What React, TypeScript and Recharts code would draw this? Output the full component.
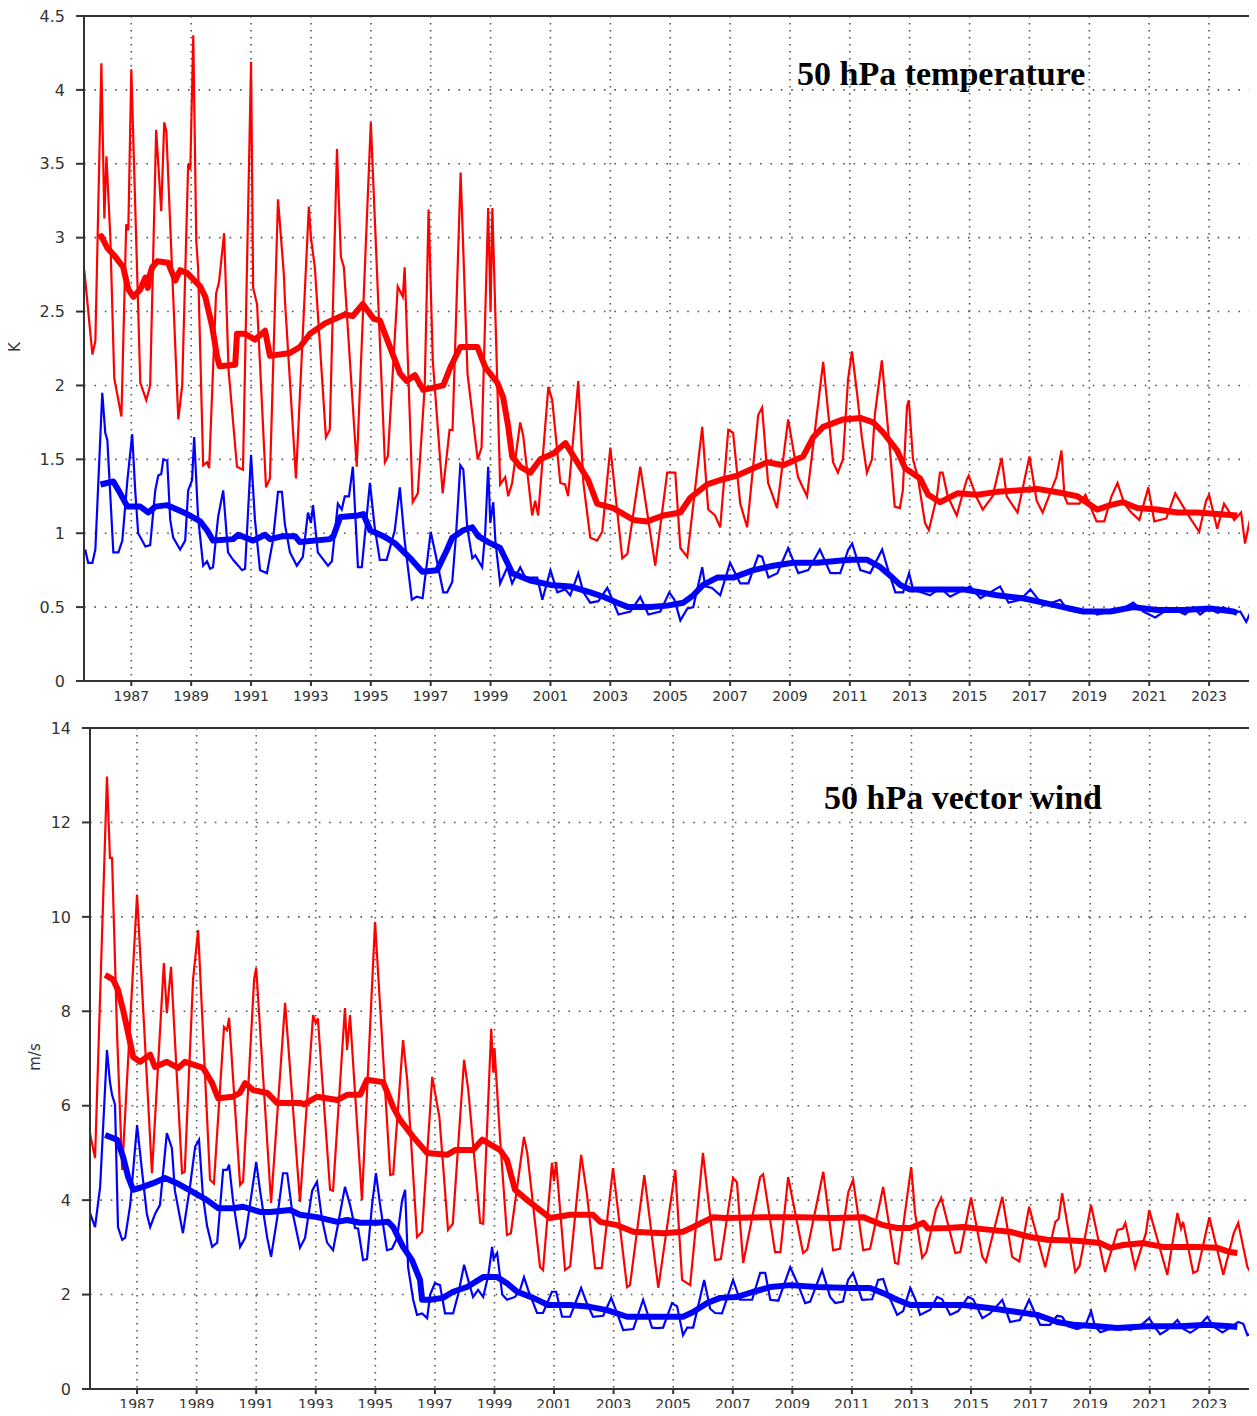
import React from 'react';
import { LineChart, Line, XAxis, YAxis, CartesianGrid, ReferenceArea } from 'recharts';

type Pt = [number, number];

const yearTicks = [1987, 1989, 1991, 1993, 1995, 1997, 1999, 2001, 2003, 2005, 2007, 2009, 2011, 2013, 2015, 2017, 2019, 2021, 2023];
const tempTicks = [0, 0.5, 1, 1.5, 2, 2.5, 3, 3.5, 4, 4.5];
const windTicks = [0, 2, 4, 6, 8, 10, 12, 14];
const xRange: Pt = [1985.42, 2024.5];

// 50 hPa temperature, monthly (thin) and 12-month mean (thick)
const tempRedMonthly: Pt[] = [
  [1985.43, 2.78], [1985.7, 2.21], [1985.8, 2.3], [1986.0, 4.18], [1986.1, 3.13], [1986.17, 3.55], [1986.3, 3.0],
  [1986.43, 2.05], [1986.67, 1.79], [1986.83, 3.09], [1986.9, 3.05], [1987.0, 4.14], [1987.3, 2.02], [1987.5, 1.9],
  [1987.63, 2.0], [1987.83, 3.73], [1988.0, 3.18], [1988.1, 3.78], [1988.17, 3.72], [1988.57, 1.77], [1988.7, 2.0],
  [1988.9, 3.5], [1988.97, 3.46], [1989.07, 4.37], [1989.17, 2.98], [1989.23, 2.8], [1989.4, 1.46], [1989.53, 1.48],
  [1989.6, 1.44], [1989.83, 2.62], [1989.93, 2.7], [1990.1, 3.03], [1990.25, 2.1], [1990.53, 1.45], [1990.73, 1.43],
  [1991.0, 4.19], [1991.07, 2.66], [1991.2, 2.55], [1991.5, 1.31], [1991.63, 1.37], [1991.9, 3.26], [1992.1, 2.74],
  [1992.13, 2.58], [1992.5, 1.37], [1992.93, 3.21], [1993.0, 3.0], [1993.13, 2.8], [1993.5, 1.65], [1993.63, 1.7],
  [1993.87, 3.6], [1994.0, 2.87], [1994.1, 2.8], [1994.53, 1.45], [1995.0, 3.78], [1995.47, 1.48], [1995.57, 1.52],
  [1995.9, 2.67], [1996.07, 2.6], [1996.13, 2.8], [1996.4, 1.21], [1996.57, 1.27], [1996.8, 1.99], [1996.93, 3.19],
  [1997.07, 2.17], [1997.4, 1.27], [1997.63, 1.7], [1997.73, 1.7], [1998.0, 3.44], [1998.23, 2.08], [1998.57, 1.5],
  [1998.7, 1.58], [1998.92, 3.2], [1999.0, 2.5], [1999.06, 3.2], [1999.32, 1.33], [1999.49, 1.38], [1999.59, 1.25],
  [1999.72, 1.34], [1999.99, 1.75], [2000.09, 1.66], [2000.39, 1.12], [2000.49, 1.22], [2000.59, 1.12], [2000.93, 1.99],
  [2001.06, 1.9], [2001.33, 1.34], [2001.49, 1.33], [2001.59, 1.25], [2001.93, 2.03], [2002.1, 1.34], [2002.33, 0.97],
  [2002.56, 0.95], [2002.73, 1.01], [2003.0, 1.58], [2003.4, 0.83], [2003.57, 0.86], [2004.0, 1.45], [2004.5, 0.78],
  [2004.9, 1.41], [2005.17, 1.41], [2005.34, 0.9], [2005.57, 0.84], [2006.07, 1.72], [2006.27, 1.16], [2006.5, 1.12],
  [2006.67, 1.04], [2006.94, 1.7], [2007.1, 1.68], [2007.34, 1.2], [2007.57, 1.04], [2007.94, 1.8], [2008.07, 1.85],
  [2008.27, 1.34], [2008.57, 1.17], [2008.94, 1.77], [2009.27, 1.38], [2009.57, 1.25], [2010.11, 2.16], [2010.44, 1.48],
  [2010.6, 1.41], [2010.77, 1.5], [2010.94, 2.04], [2011.07, 2.23], [2011.24, 1.95], [2011.4, 1.65], [2011.57, 1.41],
  [2011.74, 1.5], [2011.84, 1.81], [2012.07, 2.17], [2012.34, 1.56], [2012.5, 1.18], [2012.67, 1.17], [2012.77, 1.29],
  [2012.91, 1.86], [2012.97, 1.9], [2013.11, 1.5], [2013.27, 1.38], [2013.51, 1.07], [2013.64, 1.02], [2013.91, 1.25],
  [2014.01, 1.41], [2014.1, 1.41], [2014.27, 1.25], [2014.57, 1.12], [2014.9, 1.36], [2014.97, 1.39], [2015.24, 1.24],
  [2015.44, 1.16], [2015.77, 1.25], [2016.07, 1.51], [2016.24, 1.25], [2016.6, 1.14], [2016.77, 1.3], [2017.0, 1.52],
  [2017.24, 1.22], [2017.44, 1.14], [2017.9, 1.38], [2018.07, 1.56], [2018.17, 1.25], [2018.27, 1.2], [2018.67, 1.2],
  [2018.87, 1.26], [2019.24, 1.08], [2019.5, 1.08], [2019.74, 1.25], [2019.94, 1.34], [2020.17, 1.2], [2020.4, 1.14],
  [2020.67, 1.09], [2020.97, 1.31], [2021.17, 1.08], [2021.57, 1.1], [2021.87, 1.27], [2022.34, 1.11], [2022.67, 1.01],
  [2022.9, 1.22], [2023.0, 1.26], [2023.27, 1.03], [2023.5, 1.2], [2023.84, 1.09], [2024.07, 1.14], [2024.2, 0.93],
  [2024.34, 1.07], [2024.47, 1.17],
];

const tempRedMean: Pt[] = [
  [1985.9, 3.0], [1986.0, 3.01], [1986.2, 2.93], [1986.47, 2.87], [1986.73, 2.8], [1986.9, 2.65], [1987.07, 2.6],
  [1987.3, 2.65], [1987.47, 2.73], [1987.55, 2.66], [1987.62, 2.75], [1987.7, 2.8], [1987.87, 2.84], [1988.23, 2.83],
  [1988.47, 2.71], [1988.63, 2.78], [1988.87, 2.76], [1989.3, 2.67], [1989.47, 2.6], [1989.7, 2.4], [1989.87, 2.19],
  [1989.95, 2.13], [1990.47, 2.14], [1990.53, 2.35], [1990.8, 2.35], [1991.13, 2.31], [1991.47, 2.37], [1991.63, 2.2],
  [1992.3, 2.22], [1992.63, 2.26], [1992.97, 2.35], [1993.47, 2.42], [1994.13, 2.48], [1994.4, 2.47], [1994.73, 2.55],
  [1995.1, 2.45], [1995.3, 2.44], [1995.98, 2.08], [1996.2, 2.03], [1996.47, 2.07], [1996.75, 1.97], [1997.42, 2.0],
  [1997.65, 2.12], [1997.99, 2.26], [1998.56, 2.26], [1998.83, 2.12], [1999.22, 2.02], [1999.42, 1.92], [1999.59, 1.72],
  [1999.72, 1.52], [1999.99, 1.45], [2000.33, 1.41], [2000.66, 1.5], [2001.1, 1.54], [2001.5, 1.61], [2001.9, 1.48],
  [2002.26, 1.36], [2002.56, 1.2], [2003.1, 1.17], [2003.77, 1.09], [2004.23, 1.08], [2004.77, 1.12], [2005.34, 1.14],
  [2005.67, 1.24], [2006.24, 1.33], [2006.67, 1.36], [2007.24, 1.39], [2007.78, 1.44], [2008.24, 1.48], [2008.78, 1.46],
  [2009.44, 1.52], [2009.78, 1.65], [2010.11, 1.72], [2010.78, 1.77], [2011.35, 1.78], [2011.78, 1.75], [2012.12, 1.68],
  [2012.58, 1.56], [2012.85, 1.44], [2013.35, 1.37], [2013.62, 1.26], [2014.02, 1.21], [2014.59, 1.27], [2015.26, 1.26],
  [2015.92, 1.28], [2016.59, 1.29], [2017.26, 1.3], [2018.13, 1.27], [2018.6, 1.25], [2019.26, 1.16], [2019.7, 1.19],
  [2020.13, 1.21], [2020.6, 1.17], [2021.27, 1.16], [2021.94, 1.14], [2022.6, 1.14], [2023.27, 1.13], [2023.94, 1.12],
];

const tempBlueMonthly: Pt[] = [
  [1985.46, 0.89], [1985.56, 0.8], [1985.7, 0.8], [1985.8, 0.89], [1986.03, 1.95], [1986.13, 1.68], [1986.2, 1.63],
  [1986.4, 0.87], [1986.57, 0.87], [1986.7, 0.95], [1986.87, 1.36], [1987.03, 1.67], [1987.13, 1.29], [1987.23, 1.0],
  [1987.47, 0.91], [1987.63, 0.92], [1987.8, 1.29], [1987.9, 1.39], [1988.0, 1.4], [1988.07, 1.5], [1988.2, 1.49],
  [1988.3, 1.09], [1988.4, 0.97], [1988.63, 0.89], [1988.8, 0.95], [1988.9, 1.29], [1989.03, 1.36], [1989.1, 1.65],
  [1989.23, 1.11], [1989.4, 0.78], [1989.53, 0.81], [1989.63, 0.76], [1989.73, 0.77], [1989.9, 1.11], [1990.07, 1.29],
  [1990.23, 0.87], [1990.4, 0.82], [1990.7, 0.75], [1990.8, 0.76], [1991.0, 1.53], [1991.13, 1.09], [1991.3, 0.75],
  [1991.53, 0.73], [1991.73, 0.95], [1991.9, 1.28], [1992.03, 1.28], [1992.13, 1.06], [1992.3, 0.87], [1992.53, 0.78],
  [1992.73, 0.84], [1992.9, 1.14], [1993.0, 1.07], [1993.07, 1.19], [1993.23, 0.87], [1993.57, 0.78], [1993.7, 0.81],
  [1993.9, 1.2], [1994.03, 1.16], [1994.13, 1.25], [1994.27, 1.25], [1994.4, 1.45], [1994.57, 0.77], [1994.7, 0.77],
  [1994.97, 1.34], [1995.13, 1.04], [1995.3, 0.82], [1995.53, 0.82], [1995.8, 1.02], [1995.97, 1.31], [1996.13, 0.95],
  [1996.37, 0.55], [1996.53, 0.57], [1996.73, 0.56], [1996.9, 0.84], [1997.0, 1.01], [1997.15, 0.87], [1997.42, 0.6],
  [1997.55, 0.6], [1997.72, 0.67], [1997.85, 1.0], [1997.99, 1.46], [1998.09, 1.43], [1998.22, 1.04], [1998.39, 0.83],
  [1998.49, 0.85], [1998.72, 0.77], [1998.82, 1.0], [1998.92, 1.45], [1998.99, 1.07], [1999.09, 1.21], [1999.16, 0.95],
  [1999.32, 0.66], [1999.56, 0.77], [1999.72, 0.66], [1999.99, 0.77], [2000.16, 0.7], [2000.56, 0.7], [2000.73, 0.55],
  [2001.0, 0.75], [2001.23, 0.6], [2001.49, 0.62], [2001.66, 0.58], [2001.93, 0.73], [2002.1, 0.6], [2002.33, 0.53],
  [2002.6, 0.54], [2002.9, 0.63], [2003.07, 0.55], [2003.27, 0.45], [2003.67, 0.47], [2004.0, 0.57], [2004.27, 0.45],
  [2004.67, 0.47], [2004.97, 0.6], [2005.14, 0.55], [2005.34, 0.41], [2005.57, 0.49], [2005.77, 0.5], [2006.07, 0.77],
  [2006.17, 0.64], [2006.4, 0.63], [2006.67, 0.58], [2007.0, 0.8], [2007.34, 0.66], [2007.61, 0.66], [2007.94, 0.85],
  [2008.07, 0.84], [2008.28, 0.7], [2008.58, 0.73], [2008.94, 0.9], [2009.28, 0.73], [2009.61, 0.75], [2010.0, 0.89],
  [2010.35, 0.73], [2010.68, 0.73], [2010.95, 0.89], [2011.08, 0.93], [2011.35, 0.75], [2011.68, 0.73], [2012.08, 0.89],
  [2012.28, 0.75], [2012.52, 0.6], [2012.78, 0.6], [2012.98, 0.73], [2013.11, 0.62], [2013.68, 0.58], [2014.02, 0.63],
  [2014.35, 0.57], [2015.02, 0.64], [2015.36, 0.56], [2016.02, 0.64], [2016.3, 0.53], [2016.7, 0.55], [2017.03, 0.62],
  [2017.46, 0.51], [2018.03, 0.55], [2018.27, 0.48], [2018.8, 0.46], [2019.03, 0.48], [2019.26, 0.45], [2019.7, 0.47],
  [2020.03, 0.48], [2020.47, 0.53], [2020.8, 0.47], [2021.2, 0.43], [2021.5, 0.47], [2021.87, 0.48], [2022.2, 0.45],
  [2022.47, 0.5], [2022.7, 0.45], [2022.97, 0.49], [2023.3, 0.46], [2023.47, 0.5], [2023.81, 0.46], [2024.04, 0.47],
  [2024.24, 0.4], [2024.37, 0.46], [2024.5, 0.51],
];

const tempBlueMean: Pt[] = [
  [1985.97, 1.33], [1986.4, 1.35], [1986.63, 1.27], [1986.87, 1.18], [1987.3, 1.18], [1987.57, 1.14], [1987.8, 1.18],
  [1988.2, 1.19], [1988.53, 1.16], [1988.87, 1.13], [1989.3, 1.08], [1989.53, 1.02], [1989.73, 0.95], [1990.4, 0.96],
  [1990.57, 0.99], [1991.07, 0.95], [1991.47, 0.99], [1991.63, 0.96], [1992.07, 0.98], [1992.47, 0.98], [1992.63, 0.94],
  [1993.63, 0.96], [1993.75, 0.98], [1993.98, 1.11], [1994.58, 1.12], [1994.75, 1.13], [1994.98, 1.02], [1995.42, 0.98],
  [1995.82, 0.93], [1996.32, 0.83], [1996.72, 0.74], [1997.22, 0.75], [1997.55, 0.89], [1997.72, 0.97], [1998.09, 1.02],
  [1998.39, 1.04], [1998.59, 0.98], [1998.92, 0.94], [1999.32, 0.9], [1999.56, 0.8], [1999.72, 0.73], [2000.33, 0.68],
  [2001.0, 0.65], [2001.66, 0.64], [2002.33, 0.6], [2002.77, 0.57], [2003.23, 0.53], [2003.6, 0.5], [2004.33, 0.5],
  [2004.9, 0.51], [2005.44, 0.53], [2005.77, 0.58], [2006.1, 0.65], [2006.57, 0.7], [2007.1, 0.7], [2007.78, 0.75],
  [2008.44, 0.78], [2009.11, 0.8], [2009.91, 0.8], [2011.0, 0.82], [2011.58, 0.82], [2012.02, 0.77], [2012.42, 0.7],
  [2012.68, 0.65], [2013.02, 0.62], [2013.69, 0.62], [2014.79, 0.62], [2015.92, 0.58], [2016.79, 0.56], [2017.46, 0.53],
  [2018.13, 0.5], [2018.8, 0.47], [2019.7, 0.47], [2020.47, 0.5], [2021.27, 0.48], [2022.14, 0.48], [2023.04, 0.49],
  [2023.81, 0.47], [2023.94, 0.46],
];

// 50 hPa vector wind
const windRedMonthly: Pt[] = [
  [1985.42, 5.42], [1985.59, 4.89], [1985.99, 12.97], [1986.09, 11.25], [1986.16, 11.25], [1986.33, 7.5], [1986.5, 4.64],
  [1987.0, 10.47], [1987.5, 4.57], [1987.9, 9.02], [1988.0, 7.96], [1988.14, 8.94], [1988.51, 4.57], [1988.6, 4.6],
  [1988.88, 8.67], [1989.05, 9.72], [1989.45, 4.43], [1989.58, 4.35], [1989.92, 7.67], [1990.02, 7.6], [1990.09, 7.86],
  [1990.46, 4.32], [1990.56, 4.4], [1990.93, 8.67], [1991.0, 8.92], [1991.5, 3.94], [1991.97, 8.18], [1992.47, 3.96],
  [1992.91, 7.92], [1993.0, 7.75], [1993.07, 7.85], [1993.48, 4.22], [1993.58, 4.2], [1993.98, 8.07], [1994.05, 7.18],
  [1994.15, 7.92], [1994.55, 4.0], [1994.99, 9.89], [1995.5, 4.53], [1995.6, 4.55], [1995.93, 7.39], [1996.07, 6.55],
  [1996.4, 3.22], [1996.57, 3.33], [1996.91, 6.61], [1997.15, 5.76], [1997.44, 3.37], [1997.6, 3.5], [1997.98, 6.97],
  [1998.12, 6.33], [1998.52, 3.52], [1998.62, 3.5], [1998.89, 7.63], [1998.96, 6.7], [1999.0, 7.22], [1999.19, 5.28],
  [1999.42, 3.26], [1999.55, 3.3], [1999.99, 5.34], [2000.1, 5.0], [2000.53, 2.58], [2000.63, 2.52], [2000.93, 4.79],
  [2001.0, 4.4], [2001.07, 4.81], [2001.37, 2.52], [2001.54, 2.6], [2001.91, 4.96], [2002.1, 4.15], [2002.38, 2.56],
  [2002.6, 2.56], [2002.98, 4.68], [2003.45, 2.16], [2003.55, 2.2], [2004.03, 4.53], [2004.5, 2.14], [2005.07, 4.64],
  [2005.3, 2.31], [2005.57, 2.2], [2006.0, 5.0], [2006.41, 2.73], [2006.6, 2.75], [2007.01, 4.47], [2007.14, 4.38],
  [2007.35, 2.67], [2007.92, 4.49], [2008.02, 4.55], [2008.42, 2.9], [2008.6, 2.9], [2008.86, 4.49], [2009.36, 2.88],
  [2009.5, 2.95], [2010.04, 4.6], [2010.37, 2.94], [2010.6, 2.97], [2010.88, 4.17], [2011.04, 4.43], [2011.38, 2.94],
  [2011.61, 2.97], [2012.05, 4.28], [2012.45, 2.67], [2012.55, 2.65], [2012.99, 4.7], [2013.12, 3.73], [2013.36, 2.78],
  [2013.5, 2.9], [2013.82, 3.8], [2014.0, 4.05], [2014.47, 2.88], [2014.64, 2.9], [2015.0, 4.05], [2015.38, 2.8],
  [2015.5, 2.69], [2016.05, 4.07], [2016.38, 2.8], [2016.62, 2.7], [2016.95, 3.86], [2017.49, 2.58], [2017.83, 3.54],
  [2017.94, 3.6], [2018.06, 4.15], [2018.5, 2.48], [2018.64, 2.6], [2019.03, 3.9], [2019.5, 2.48], [2019.92, 3.37],
  [2020.1, 3.4], [2020.18, 3.52], [2020.51, 2.56], [2020.87, 3.3], [2020.98, 3.79], [2021.59, 2.42], [2021.93, 3.73],
  [2022.05, 3.4], [2022.12, 3.54], [2022.46, 2.46], [2022.6, 2.5], [2023.0, 3.64], [2023.47, 2.42], [2023.82, 3.3],
  [2023.97, 3.52], [2024.28, 2.58], [2024.44, 2.42],
];

const windRedMean: Pt[] = [
  [1985.93, 8.77], [1986.2, 8.67], [1986.36, 8.45], [1986.53, 8.03], [1986.7, 7.54], [1986.87, 7.03], [1987.1, 6.93],
  [1987.44, 7.08], [1987.6, 6.82], [1988.0, 6.93], [1988.38, 6.8], [1988.61, 6.93], [1989.22, 6.8], [1989.52, 6.48],
  [1989.72, 6.16], [1990.22, 6.19], [1990.45, 6.27], [1990.63, 6.48], [1990.9, 6.33], [1991.37, 6.27], [1991.7, 6.06],
  [1992.47, 6.06], [1992.6, 6.03], [1993.04, 6.19], [1993.72, 6.12], [1994.05, 6.23], [1994.49, 6.23], [1994.72, 6.55],
  [1995.26, 6.5], [1995.6, 5.97], [1995.83, 5.7], [1996.27, 5.34], [1996.74, 5.0], [1997.41, 4.96], [1997.68, 5.06],
  [1998.28, 5.06], [1998.59, 5.28], [1999.19, 5.06], [1999.42, 4.85], [1999.69, 4.22], [2000.1, 4.0], [2000.53, 3.79],
  [2000.87, 3.62], [2001.54, 3.69], [2002.31, 3.69], [2002.55, 3.54], [2003.12, 3.47], [2003.66, 3.33], [2004.66, 3.3],
  [2005.33, 3.33], [2005.67, 3.43], [2006.34, 3.64], [2006.74, 3.62], [2008.15, 3.64], [2009.26, 3.64], [2010.37, 3.62],
  [2011.38, 3.64], [2012.05, 3.47], [2012.52, 3.41], [2012.96, 3.41], [2013.4, 3.52], [2013.55, 3.4], [2014.2, 3.41],
  [2014.74, 3.43], [2015.64, 3.37], [2016.31, 3.33], [2016.99, 3.22], [2017.56, 3.16], [2018.56, 3.14], [2019.34, 3.09],
  [2019.67, 2.99], [2020.11, 3.05], [2020.78, 3.09], [2021.45, 3.01], [2022.59, 3.01], [2023.27, 2.99], [2023.7, 2.9],
  [2023.94, 2.88],
];

const windBlueMonthly: Pt[] = [
  [1985.42, 3.73], [1985.59, 3.43], [1985.76, 4.28], [1985.99, 7.18], [1986.09, 6.5], [1986.16, 6.23], [1986.26, 6.02],
  [1986.36, 3.43], [1986.5, 3.16], [1986.6, 3.2], [1986.77, 3.9], [1987.0, 5.59], [1987.17, 4.6], [1987.33, 3.7],
  [1987.44, 3.43], [1987.6, 3.7], [1987.77, 3.9], [1988.0, 5.42], [1988.17, 5.1], [1988.27, 4.2], [1988.54, 3.3],
  [1988.78, 4.3], [1988.95, 5.13], [1989.08, 5.28], [1989.21, 4.1], [1989.35, 3.45], [1989.52, 3.01], [1989.69, 3.1],
  [1989.89, 4.64], [1990.02, 4.64], [1990.09, 4.75], [1990.22, 4.0], [1990.46, 3.01], [1990.63, 3.2], [1990.86, 4.2],
  [1991.0, 4.81], [1991.13, 4.2], [1991.37, 3.2], [1991.5, 2.8], [1991.7, 3.6], [1991.9, 4.57], [1992.04, 4.57],
  [1992.2, 3.8], [1992.47, 2.99], [1992.64, 3.2], [1992.88, 4.2], [1993.04, 4.39], [1993.21, 3.6], [1993.38, 3.1],
  [1993.58, 2.94], [1993.75, 3.5], [1993.98, 4.28], [1994.15, 3.9], [1994.32, 3.41], [1994.42, 3.4], [1994.59, 2.73],
  [1994.72, 2.75], [1994.89, 3.9], [1995.02, 4.57], [1995.16, 3.9], [1995.39, 2.94], [1995.56, 2.97], [1995.73, 3.2],
  [1995.9, 4.0], [1996.0, 4.22], [1996.1, 2.58], [1996.27, 1.89], [1996.4, 1.57], [1996.57, 1.6], [1996.74, 1.5],
  [1996.84, 2.0], [1997.0, 2.24], [1997.17, 2.2], [1997.34, 1.6], [1997.61, 1.6], [1997.78, 2.0], [1997.98, 2.63],
  [1998.12, 2.3], [1998.28, 1.95], [1998.45, 2.1], [1998.62, 1.95], [1998.79, 2.4], [1998.92, 3.01], [1998.97, 2.75],
  [1999.09, 2.88], [1999.26, 2.0], [1999.42, 1.89], [1999.69, 1.95], [1999.86, 2.1], [1999.99, 2.37], [2000.13, 2.1],
  [2000.43, 1.61], [2000.63, 1.61], [2000.93, 2.06], [2001.07, 2.06], [2001.27, 1.53], [2001.54, 1.53], [2001.91, 2.14],
  [2002.11, 1.8], [2002.31, 1.53], [2002.65, 1.55], [2002.92, 1.93], [2003.12, 1.6], [2003.32, 1.25], [2003.66, 1.27],
  [2003.99, 1.89], [2004.29, 1.3], [2004.46, 1.29], [2004.66, 1.3], [2004.96, 1.82], [2005.13, 1.75], [2005.33, 1.14],
  [2005.47, 1.3], [2005.67, 1.3], [2006.04, 2.31], [2006.24, 1.7], [2006.41, 1.61], [2006.64, 1.6], [2007.01, 2.31],
  [2007.24, 1.89], [2007.41, 1.89], [2007.65, 1.89], [2007.92, 2.46], [2008.09, 2.46], [2008.26, 1.89], [2008.53, 1.87],
  [2008.93, 2.58], [2009.2, 2.2], [2009.43, 1.82], [2009.6, 1.85], [2010.0, 2.52], [2010.27, 1.95], [2010.44, 1.82],
  [2010.7, 1.85], [2010.87, 2.31], [2011.04, 2.46], [2011.34, 1.89], [2011.68, 1.9], [2011.88, 2.31], [2012.05, 2.33],
  [2012.22, 2.0], [2012.52, 1.57], [2012.72, 1.65], [2012.96, 2.14], [2013.13, 1.9], [2013.29, 1.57], [2013.63, 1.68],
  [2013.86, 1.95], [2014.03, 1.9], [2014.3, 1.57], [2014.57, 1.65], [2014.9, 1.95], [2015.07, 1.9], [2015.38, 1.5],
  [2015.64, 1.6], [2016.05, 1.89], [2016.31, 1.42], [2016.64, 1.46], [2016.95, 1.89], [2017.15, 1.6], [2017.32, 1.36],
  [2017.65, 1.36], [2017.89, 1.55], [2018.06, 1.53], [2018.26, 1.33], [2018.56, 1.27], [2018.83, 1.33], [2019.03, 1.65],
  [2019.16, 1.33], [2019.34, 1.2], [2019.67, 1.27], [2020.0, 1.33], [2020.34, 1.25], [2020.67, 1.33], [2020.98, 1.5],
  [2021.18, 1.3], [2021.35, 1.16], [2021.59, 1.25], [2021.93, 1.46], [2022.13, 1.27], [2022.36, 1.19], [2022.59, 1.29],
  [2022.93, 1.53], [2023.13, 1.33], [2023.44, 1.2], [2023.7, 1.3], [2023.97, 1.42], [2024.14, 1.38], [2024.28, 1.14],
  [2024.48, 1.2],
];

const windBlueMean: Pt[] = [
  [1985.93, 5.38], [1986.33, 5.28], [1986.53, 4.92], [1986.7, 4.49], [1986.87, 4.22], [1987.2, 4.28], [1987.54, 4.36],
  [1987.94, 4.47], [1988.34, 4.36], [1988.88, 4.17], [1989.35, 4.0], [1989.72, 3.83], [1990.22, 3.83], [1990.56, 3.86],
  [1991.13, 3.75], [1991.47, 3.75], [1992.14, 3.79], [1992.47, 3.69], [1993.04, 3.64], [1993.72, 3.54], [1994.05, 3.58],
  [1994.49, 3.52], [1995.06, 3.52], [1995.43, 3.54], [1995.6, 3.43], [1995.93, 3.01], [1996.23, 2.73], [1996.5, 2.31],
  [1996.57, 1.89], [1996.84, 1.89], [1997.27, 1.93], [1997.61, 2.06], [1998.08, 2.16], [1998.62, 2.37], [1999.09, 2.37],
  [1999.42, 2.24], [1999.76, 2.06], [2000.3, 1.93], [2000.8, 1.78], [2001.54, 1.78], [2002.21, 1.74], [2002.78, 1.67],
  [2003.45, 1.53], [2004.56, 1.53], [2005.33, 1.53], [2005.67, 1.63], [2006.14, 1.82], [2006.58, 1.93], [2007.15, 1.95],
  [2007.69, 2.06], [2008.26, 2.16], [2008.93, 2.2], [2009.83, 2.16], [2010.94, 2.14], [2011.61, 2.14], [2012.05, 2.03],
  [2012.52, 1.89], [2012.96, 1.78], [2013.63, 1.78], [2014.74, 1.78], [2015.54, 1.72], [2016.55, 1.63], [2017.22, 1.57],
  [2017.89, 1.42], [2018.43, 1.36], [2019.23, 1.33], [2019.9, 1.29], [2020.91, 1.33], [2022.02, 1.33], [2022.93, 1.36],
  [2023.7, 1.33], [2023.94, 1.31],
];

const toRows = (pts: Pt[]) => pts.map(([x, y]) => ({ x, y }));

const tickFont = { fontFamily: '"DejaVu Sans", sans-serif', fill: '#333' };
const RED = '#ff0000';
const BLUE = '#0000ff';

interface PanelProps {
  top: number;
  height: number;
  marginTop: number;
  axisWidth: number;
  xAxisHeight: number;
  yMax: number;
  yTicks: number[];
  redThin: Pt[];
  redMean: Pt[];
  blueThin: Pt[];
  blueMean: Pt[];
}

const Panel: React.FC<PanelProps> = ({
  top, height, marginTop, axisWidth, xAxisHeight, yMax, yTicks, redThin, redMean, blueThin, blueMean,
}) => (
  <div style={{ position: 'absolute', left: 0, top }}>
    <LineChart width={1257} height={height} margin={{ top: marginTop, right: 3, bottom: 0, left: 0 }}>
      <CartesianGrid vertical={false} stroke="#555" strokeWidth={1.6} strokeDasharray="1.6 8.8" />
      <CartesianGrid horizontal={false} stroke="#555" strokeWidth={1.6} strokeDasharray="1.6 5.4" />
      <XAxis
        type="number"
        dataKey="x"
        domain={xRange}
        ticks={yearTicks}
        interval={0}
        allowDataOverflow
        height={xAxisHeight}
        tickSize={5}
        tickMargin={5}
        stroke="#333"
        axisLine={{ strokeWidth: 2 }}
        tickLine={{ strokeWidth: 2 }}
        tick={{ ...tickFont, fontSize: 14 }}
      />
      <YAxis
        type="number"
        domain={[0, yMax]}
        ticks={yTicks}
        interval={0}
        allowDataOverflow
        width={axisWidth}
        tickSize={8}
        tickMargin={11}
        stroke="#333"
        axisLine={{ strokeWidth: 2 }}
        tickLine={{ strokeWidth: 2 }}
        tick={{ ...tickFont, fontSize: 16 }}
      />
      <ReferenceArea x1={xRange[0]} x2={xRange[1]} y1={0} y2={yMax} fill="none" fillOpacity={0} stroke="#333" strokeWidth={2} />
      <Line data={toRows(redThin)} dataKey="y" stroke={RED} strokeWidth={2.2} dot={false} activeDot={false} isAnimationActive={false} />
      <Line data={toRows(redMean)} dataKey="y" stroke={RED} strokeWidth={6} strokeLinejoin="round" dot={false} activeDot={false} isAnimationActive={false} />
      <Line data={toRows(blueThin)} dataKey="y" stroke={BLUE} strokeWidth={2.2} dot={false} activeDot={false} isAnimationActive={false} />
      <Line data={toRows(blueMean)} dataKey="y" stroke={BLUE} strokeWidth={6} strokeLinejoin="round" dot={false} activeDot={false} isAnimationActive={false} />
    </LineChart>
  </div>
);

const titleStyle: React.CSSProperties = {
  position: 'absolute',
  fontFamily: '"Liberation Serif", serif',
  fontWeight: 'bold',
  fontSize: 34,
  lineHeight: '34px',
  whiteSpace: 'nowrap',
  color: '#000',
};

const unitStyle: React.CSSProperties = {
  position: 'absolute',
  fontFamily: '"DejaVu Sans", sans-serif',
  fontSize: 15,
  lineHeight: '15px',
  color: '#333',
  whiteSpace: 'nowrap',
  transform: 'translate(-50%, -50%) rotate(-90deg)',
};

export default function App() {
  return (
    <div style={{ position: 'relative', width: 1257, height: 1416, margin: -8, background: '#fff', overflow: 'hidden' }}>
      <Panel
        top={0}
        height={710}
        marginTop={16}
        axisWidth={84}
        xAxisHeight={29}
        yMax={4.5}
        yTicks={tempTicks}
        redThin={tempRedMonthly}
        redMean={tempRedMean}
        blueThin={tempBlueMonthly}
        blueMean={tempBlueMean}
      />
      <Panel
        top={700}
        height={716}
        marginTop={28}
        axisWidth={90}
        xAxisHeight={27}
        yMax={14}
        yTicks={windTicks}
        redThin={windRedMonthly}
        redMean={windRedMean}
        blueThin={windBlueMonthly}
        blueMean={windBlueMean}
      />
      <div style={{ ...titleStyle, left: 797, top: 57 }}>50 hPa temperature</div>
      <div style={{ ...titleStyle, left: 824, top: 781 }}>50 hPa vector wind</div>
      <div style={{ ...unitStyle, left: 15, top: 347 }}>K</div>
      <div style={{ ...unitStyle, left: 35, top: 1057 }}>m/s</div>
    </div>
  );
}
